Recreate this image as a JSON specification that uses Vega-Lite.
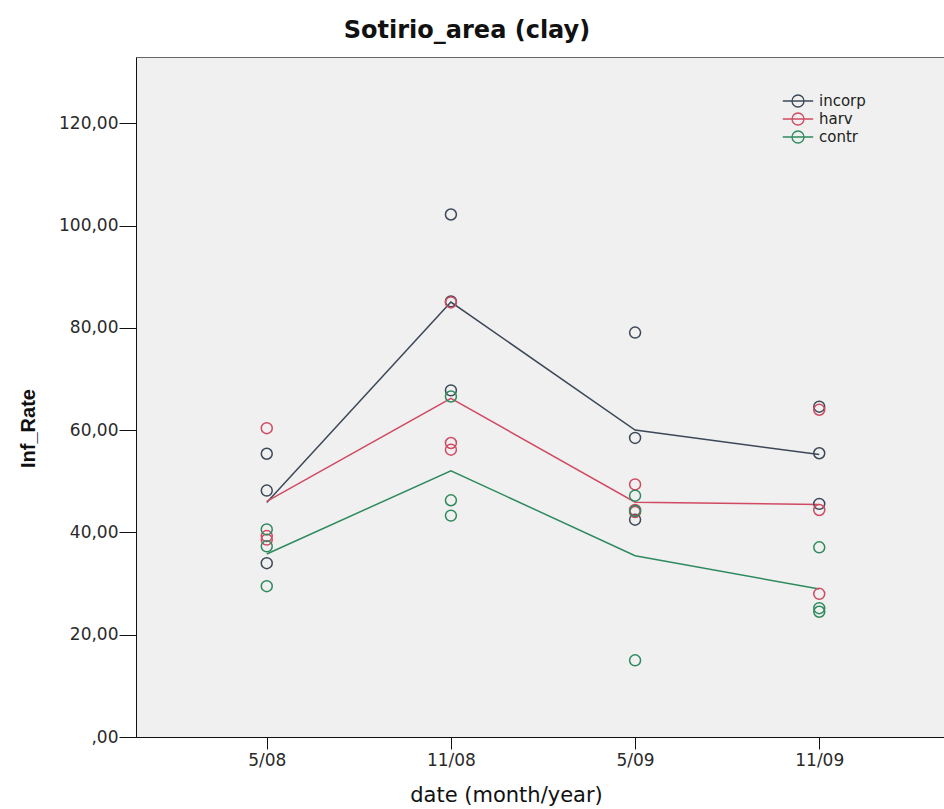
{
  "$schema": "https://vega.github.io/schema/vega-lite/v6.json",
  "width": 814,
  "height": 680,
  "autosize": {"type": "none"},
  "padding": {"left": 136, "top": 57, "right": 0, "bottom": 72},
  "background": "#ffffff",
  "title": {
    "text": "Sotirio_area (clay)",
    "font": "DejaVu Sans",
    "fontSize": 24,
    "fontWeight": "bold",
    "color": "#111111",
    "anchor": "middle",
    "frame": "group",
    "dx": -76,
    "offset": 14
  },
  "config": {
    "view": {"fill": "#f0f0f0", "stroke": "#666666", "strokeWidth": 1},
    "axis": {
      "grid": false,
      "domainColor": "#111111",
      "tickColor": "#111111",
      "labelFont": "DejaVu Sans",
      "labelFontSize": 17,
      "labelColor": "#2a2a2a",
      "titleFont": "DejaVu Sans",
      "titleColor": "#111111"
    }
  },
  "data": {
    "values": [
      {"date": "5/08", "group": "incorp", "rate": 55.4},
      {"date": "5/08", "group": "incorp", "rate": 48.2},
      {"date": "5/08", "group": "incorp", "rate": 34.0},
      {"date": "5/08", "group": "harv", "rate": 60.4},
      {"date": "5/08", "group": "harv", "rate": 38.6},
      {"date": "5/08", "group": "harv", "rate": 39.3},
      {"date": "5/08", "group": "contr", "rate": 40.6},
      {"date": "5/08", "group": "contr", "rate": 37.3},
      {"date": "5/08", "group": "contr", "rate": 29.5},
      {"date": "11/08", "group": "incorp", "rate": 102.2},
      {"date": "11/08", "group": "incorp", "rate": 85.2},
      {"date": "11/08", "group": "incorp", "rate": 67.8},
      {"date": "11/08", "group": "harv", "rate": 85.0},
      {"date": "11/08", "group": "harv", "rate": 57.5},
      {"date": "11/08", "group": "harv", "rate": 56.2},
      {"date": "11/08", "group": "contr", "rate": 66.6},
      {"date": "11/08", "group": "contr", "rate": 46.3},
      {"date": "11/08", "group": "contr", "rate": 43.3},
      {"date": "5/09", "group": "incorp", "rate": 79.1},
      {"date": "5/09", "group": "incorp", "rate": 58.5},
      {"date": "5/09", "group": "incorp", "rate": 42.5},
      {"date": "5/09", "group": "harv", "rate": 49.4},
      {"date": "5/09", "group": "harv", "rate": 44.4},
      {"date": "5/09", "group": "harv", "rate": 44.0},
      {"date": "5/09", "group": "contr", "rate": 47.2},
      {"date": "5/09", "group": "contr", "rate": 44.2},
      {"date": "5/09", "group": "contr", "rate": 15.0},
      {"date": "11/09", "group": "incorp", "rate": 64.6},
      {"date": "11/09", "group": "incorp", "rate": 55.5},
      {"date": "11/09", "group": "incorp", "rate": 45.6},
      {"date": "11/09", "group": "harv", "rate": 64.0},
      {"date": "11/09", "group": "harv", "rate": 44.4},
      {"date": "11/09", "group": "harv", "rate": 28.0},
      {"date": "11/09", "group": "contr", "rate": 37.1},
      {"date": "11/09", "group": "contr", "rate": 25.2},
      {"date": "11/09", "group": "contr", "rate": 24.5}
    ]
  },
  "encoding": {
    "x": {
      "field": "date",
      "type": "ordinal",
      "sort": ["5/08", "11/08", "5/09", "11/09"],
      "scale": {"type": "point", "padding": 0.71},
      "axis": {
        "title": "date  (month/year)",
        "titleFontSize": 21,
        "titleFontWeight": "normal",
        "titleX": 370,
        "titleY": 58,
        "titleBaseline": "middle",
        "labelAngle": 0,
        "tickSize": 12,
        "labelPadding": 3
      }
    },
    "color": {
      "field": "group",
      "type": "nominal",
      "scale": {"domain": ["incorp", "harv", "contr"], "range": ["#3c4858", "#d04a63", "#2e8a5e"]},
      "legend": {
        "title": null,
        "orient": "none",
        "legendX": 653,
        "legendY": 35,
        "padding": 0,
        "labelFont": "DejaVu Sans",
        "labelFontSize": 15,
        "labelColor": "#222222",
        "symbolType": "M-1.9,0L1.9,0M0.75,0A0.75,0.75,0,1,1,-0.75,0A0.75,0.75,0,1,1,0.75,0",
        "symbolSize": 256,
        "symbolStrokeWidth": 1.3,
        "symbolFillColor": "transparent",
        "rowPadding": 0,
        "labelOffset": 12
      }
    }
  },
  "layer": [
    {
      "mark": {"type": "line", "strokeWidth": 1.5},
      "encoding": {
        "y": {
          "aggregate": "mean",
          "field": "rate",
          "type": "quantitative",
          "scale": {"domain": [0, 133], "nice": false},
          "axis": {
            "title": "Inf_Rate",
            "titleFont": "Liberation Sans",
            "titleFontSize": 20,
            "titleFontWeight": "bold",
            "titleX": -108,
            "titleY": 371,
            "titleBaseline": "middle",
            "values": [0, 20, 40, 60, 80, 100, 120],
            "labelExpr": "datum.value == 0 ? ',00' : replace(format(datum.value, '.2f'), '.', ',')",
            "tickSize": 17,
            "labelPadding": 1
          }
        }
      }
    },
    {
      "mark": {"type": "point", "filled": false, "size": 120, "strokeWidth": 1.5, "opacity": 1},
      "encoding": {
        "y": {"field": "rate", "type": "quantitative"}
      }
    }
  ]
}
